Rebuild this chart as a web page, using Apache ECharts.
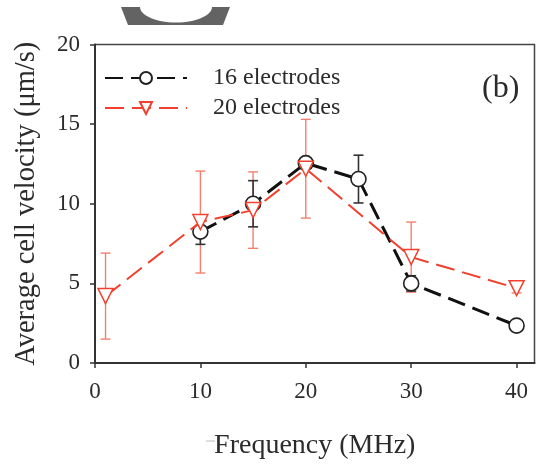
<!DOCTYPE html>
<html>
<head>
<meta charset="utf-8">
<script src="https://cdn.jsdelivr.net/npm/echarts@6/dist/echarts.min.js"></script>
<style>
html,body{margin:0;padding:0;background:#fff;}
#c{width:537px;height:465px;}
</style>
</head>
<body>
<div id="c"></div>
<script>
// ---- data ----
var freq16 = [10, 15, 20, 25, 30, 40];
var vel16  = [8.25, 10.0, 12.55, 11.55, 5.0, 2.35];
var err16  = [0.8, 1.45, 0.3, 1.5, 0.48, 0.2];

var freq20 = [1, 10, 15, 20, 30, 40];
var vel20  = [4.2, 8.85, 9.6, 12.2, 6.65, 4.7];
var err20  = [2.7, 3.2, 2.4, 3.1, 2.2, 0.3];

var xTicks = [0, 10, 20, 30, 40];
var yTicks = [0, 5, 10, 15, 20];
var seriesNames = ['16 electrodes', '20 electrodes'];

var FONT = '"Liberation Serif", "Times New Roman", serif';
var TXT = '#2b2b2b';
var RED = '#f2402e';
var RED_ERR = '#f3806f';

function pts(xs, ys) { return xs.map(function (x, i) { return [x, ys[i]]; }); }
function errData(xs, ys, es) { return xs.map(function (x, i) { return [x, ys[i] - es[i], ys[i] + es[i]]; }); }

function errRender(color, width) {
  return function (params, api) {
    var x = api.value(0);
    var lo = api.coord([x, api.value(1)]);
    var hi = api.coord([x, api.value(2)]);
    var cap = 5;
    var st = { stroke: color, lineWidth: width };
    return {
      type: 'group',
      children: [
        { type: 'line', shape: { x1: lo[0], y1: lo[1], x2: hi[0], y2: hi[1] }, style: st },
        { type: 'line', shape: { x1: lo[0] - cap, y1: lo[1], x2: lo[0] + cap, y2: lo[1] }, style: st },
        { type: 'line', shape: { x1: hi[0] - cap, y1: hi[1], x2: hi[0] + cap, y2: hi[1] }, style: st }
      ]
    };
  };
}

// decorative cropped shape at top (part of neighbouring figure)
var bowl = [];
(function () {
  var cx = 176, cy = 7, rx = 36, ry = 15.5;
  bowl.push([121, 7]);
  for (var a = 180; a >= 0; a -= 6) {
    var r = a * Math.PI / 180;
    bowl.push([cx + rx * Math.cos(r), cy + ry * Math.sin(r)]);
  }
  bowl.push([230, 7]);
  bowl.push([223, 25]);
  bowl.push([128, 25]);
})();

var chart = echarts.init(document.getElementById('c'), null, { renderer: 'canvas' });

chart.setOption({
  animation: false,
  backgroundColor: '#fff',
  grid: { left: 95, right: 2.5, top: 44.5, bottom: 100.5, show: true, borderColor: '#444', borderWidth: 1.5, backgroundColor: 'transparent' },
  legend: {
    orient: 'vertical',
    left: 99,
    top: 61,
    itemWidth: 82,
    itemHeight: 15,
    itemGap: 6,
    data: seriesNames,
    textStyle: { fontFamily: FONT, fontSize: 24, color: TXT, padding: [0, 0, 0, 21] }
  },
  xAxis: {
    type: 'value',
    min: 0,
    max: 41.7,
    interval: 10,
    name: 'Frequency (MHz)',
    nameLocation: 'middle',
    nameGap: 69,
    nameTextStyle: { fontFamily: FONT, fontSize: 28, color: TXT },
    axisLine: { show: true, lineStyle: { color: '#333', width: 2 } },
    axisTick: { show: true, length: 5, inside: false, lineStyle: { color: '#333', width: 1.5 }, customValues: xTicks },
    axisLabel: { fontFamily: FONT, fontSize: 23, color: TXT, margin: 17, customValues: xTicks },
    splitLine: { show: false }
  },
  yAxis: {
    type: 'value',
    min: 0,
    max: 20,
    interval: 5,
    name: 'Average cell velocity (\u03bcm/s)',
    nameLocation: 'middle',
    nameRotate: 90,
    nameGap: 54,
    nameTextStyle: { fontFamily: FONT, fontSize: 28.5, color: TXT },
    axisLine: { show: true, lineStyle: { color: '#333', width: 2 } },
    axisTick: { show: true, length: 5, inside: false, lineStyle: { color: '#333', width: 1.5 }, customValues: yTicks },
    axisLabel: { fontFamily: FONT, fontSize: 23, color: TXT, margin: 15, customValues: yTicks },
    splitLine: { show: false }
  },
  series: [
    {
      type: 'custom',
      name: 'err20',
      data: errData(freq20, vel20, err20),
      renderItem: errRender(RED_ERR, 1.4),
      encode: { x: 0, y: [1, 2] },
      z: 1,
      silent: true
    },
    {
      type: 'custom',
      name: 'err16',
      data: errData(freq16, vel16, err16),
      renderItem: errRender('#333', 1.6),
      encode: { x: 0, y: [1, 2] },
      z: 1,
      silent: true
    },
    {
      type: 'line',
      name: seriesNames[1],
      data: pts(freq20, vel20),
      symbol: 'triangle',
      symbolRotate: 180,
      symbolSize: 15,
      showAllSymbol: true,
      lineStyle: { color: RED, width: 2, type: [19, 8] },
      itemStyle: { color: '#fff', borderColor: RED, borderWidth: 1.5 },
      z: 3
    },
    {
      type: 'line',
      name: seriesNames[0],
      data: pts(freq16, vel16),
      symbol: 'circle',
      symbolSize: 15,
      showAllSymbol: true,
      lineStyle: { color: '#111', width: 3, type: [18, 8] },
      itemStyle: { color: '#fff', borderColor: '#222', borderWidth: 1.6 },
      z: 2
    }
  ],
  graphic: [
    {
      type: 'text',
      left: 482,
      top: 73,
      style: { text: '(b)', fontFamily: FONT, fontSize: 32, fill: TXT }
    },
    {
      type: 'polygon',
      shape: { points: bowl },
      style: { fill: '#636363' },
      silent: true
    },
    {
      type: 'line',
      shape: { x1: 206, y1: 441, x2: 215, y2: 441 },
      style: { stroke: '#bbb', lineWidth: 1 },
      silent: true
    }
  ]
});
</script>
</body>
</html>
